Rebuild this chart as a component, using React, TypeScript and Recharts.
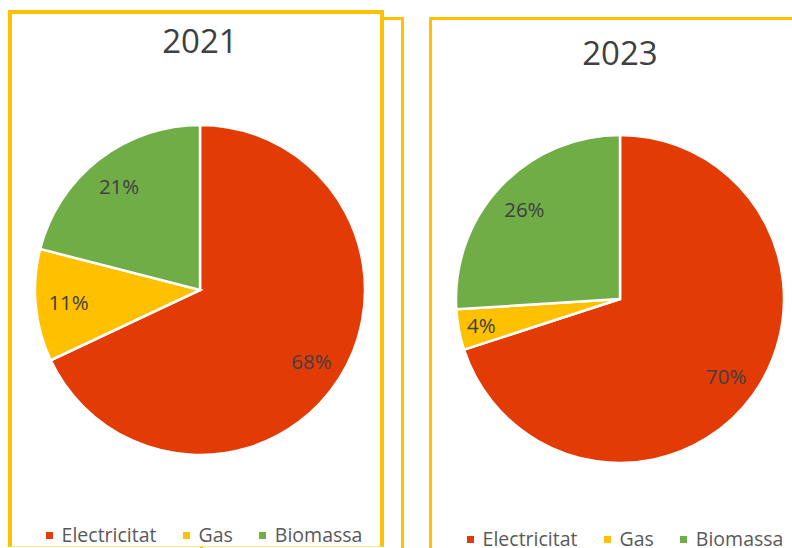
import React from "react";
import { PieChart, Pie, Cell, Legend } from "recharts";

const categories = ["Electricitat", "Gas", "Biomassa"];
const values2021 = [68, 11, 21];
const values2023 = [70, 4, 26];
const titles = ["2021", "2023"];
const colors = ["#E33B06", "#FFC000", "#70AD47"];

const RADIAN = Math.PI / 180;
const FONT = "'Open Sans', 'Liberation Sans', sans-serif";

const build = (vals: number[]) => categories.map((name, i) => ({ name, value: vals[i] }));

const renderLabel = (props: any) => {
  const { cx, cy, midAngle, outerRadius, percent } = props;
  const f = percent < 0.06 ? 0.86 : 0.8;
  const r = outerRadius * f;
  const x = cx + r * Math.cos(-midAngle * RADIAN);
  const y = cy + r * Math.sin(-midAngle * RADIAN);
  return (
    <text x={x} y={y} fill="#404040" fontSize={20.5} fontFamily={FONT} textAnchor="middle" dominantBaseline="central">
      {`${Math.round(percent * 100)}%`}
    </text>
  );
};

const LegendContent = (props: any) => {
  const payload = [...(props.payload || [])].sort(
    (a: any, b: any) => categories.indexOf(a.value) - categories.indexOf(b.value)
  );
  return (
    <div style={{ display: "flex", justifyContent: "center", alignItems: "center", fontFamily: FONT, fontSize: 19.5, color: "#595959" }}>
      {payload.map((p: any, i: number) => (
        <div key={i} style={{ display: "flex", alignItems: "center", marginRight: i < payload.length - 1 ? 26 : 0 }}>
          <span style={{ display: "inline-block", width: 7, height: 7, background: p.color, marginRight: 9 }} />
          <span>{p.value}</span>
        </div>
      ))}
    </div>
  );
};

type PanelProps = {
  data: { name: string; value: number }[];
  title: string;
  left: number;
  top: number;
  width: number;
  height: number;
  cx: number;
  cy: number;
  r: number;
  titleY: number;
  legendY: number;
  legendOffset: number;
};

const Panel = ({ data, title, left, top, width, height, cx, cy, r, titleY, legendY, legendOffset }: PanelProps) => (
  <div style={{ position: "absolute", left, top, width, height }}>
    <div
      style={{
        position: "absolute",
        left: cx - 100,
        width: 200,
        top: titleY - 22,
        textAlign: "center",
        fontFamily: FONT,
        fontSize: 33,
        color: "#404040",
        lineHeight: "44px",
      }}
    >
      {title}
    </div>
    <PieChart width={width} height={height} margin={{ top: 0, right: 0, bottom: 0, left: 0 }}>
      <Pie
        data={data}
        dataKey="value"
        nameKey="name"
        cx={cx}
        cy={cy}
        outerRadius={r}
        startAngle={90}
        endAngle={-270}
        stroke="#FFFFFF"
        strokeWidth={2.5}
        label={renderLabel}
        labelLine={false}
        isAnimationActive={false}
      >
        {data.map((_, i) => (
          <Cell key={i} fill={colors[i]} />
        ))}
      </Pie>
      <Legend
        content={<LegendContent />}
        wrapperStyle={{ position: "absolute", left: legendOffset, width: width, top: legendY - 11, height: 22, lineHeight: "22px" }}
      />
    </PieChart>
  </div>
);

export default function App() {
  return (
    <div style={{ position: "absolute", left: 0, top: 0, width: 792, height: 548, overflow: "hidden", background: "#FFFFFF" }}>
      {/* back panel */}
      <div style={{ position: "absolute", left: 200, top: 17, width: 204, height: 600, border: "3px solid #FFC000", boxSizing: "border-box" }} />
      {/* right panel */}
      <div style={{ position: "absolute", left: 429, top: 17, width: 420, height: 600, border: "3px solid #FFC000", boxSizing: "border-box", background: "#FFFFFF" }} />
      {/* left panel */}
      <div
        style={{
          position: "absolute",
          left: 8,
          top: 10,
          width: 376,
          height: 537,
          borderTop: "4px solid #FFC000",
          borderLeft: "4px solid #FFC000",
          borderRight: "4px solid #FFC000",
          borderBottom: "1px solid #FFE28A",
          boxSizing: "border-box",
          background: "#FFFFFF",
        }}
      />
      <Panel
        data={build(values2021)}
        title={titles[0]}
        left={8}
        top={10}
        width={376}
        height={537}
        cx={192}
        cy={280}
        r={165}
        titleY={31}
        legendY={525}
        legendOffset={8}
      />
      <Panel
        data={build(values2023)}
        title={titles[1]}
        left={432}
        top={20}
        width={360}
        height={528}
        cx={188}
        cy={279}
        r={164}
        titleY={33}
        legendY={519}
        legendOffset={13}
      />
    </div>
  );
}
